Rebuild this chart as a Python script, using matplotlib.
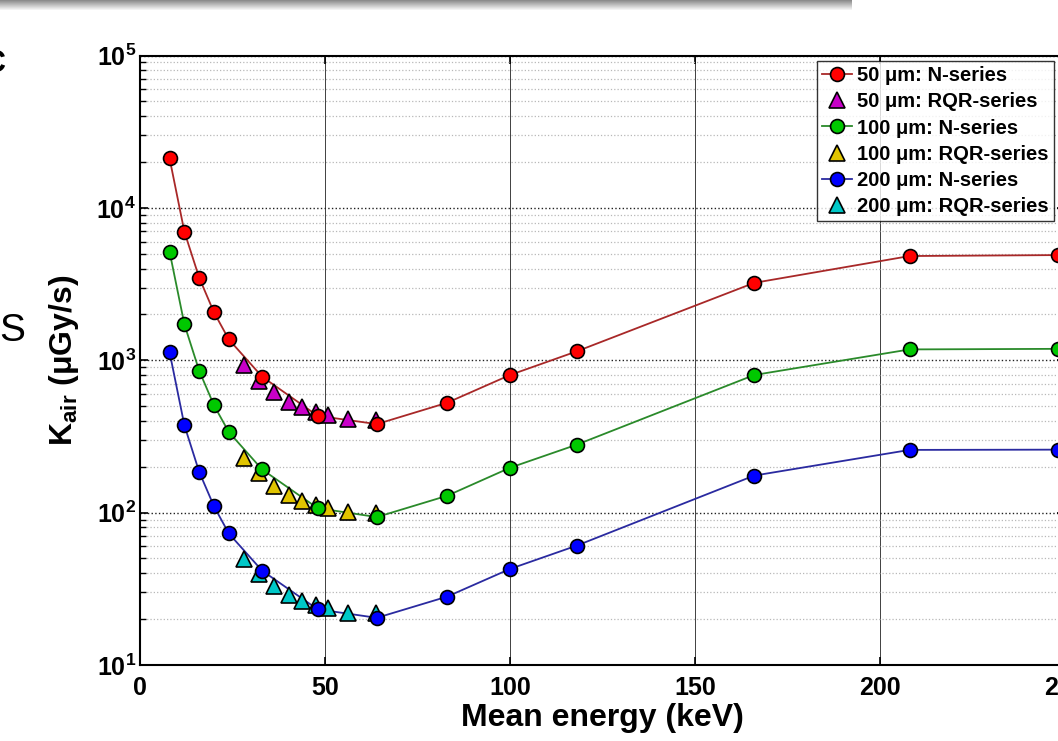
import matplotlib
matplotlib.use("Agg")
import matplotlib.pyplot as plt
import numpy as np
from matplotlib.lines import Line2D
from matplotlib.ticker import FixedLocator, LogLocator, NullFormatter, FuncFormatter

# mean energies (keV)
energy_n = [8, 12, 16, 20, 24, 33, 48, 64, 83, 100, 118, 166, 208, 248]
energy_rqr = [28, 32.2, 36.3, 40.3, 43.8, 47.5, 50.7, 56.1, 63.8]

# air kerma rate (uGy/s), N-series
kair_50_n = [21100, 6970, 3480, 2060, 1370, 780, 432, 381, 526, 800, 1143, 3220, 4830, 4900]
kair_100_n = [5150, 1720, 853, 506, 338, 192, 107, 93.5, 129, 197, 279, 800, 1178, 1188]
kair_200_n = [1128, 374, 185, 110, 73, 41.6, 23.2, 20.4, 28.1, 42.7, 60.7, 175, 258, 259]

# RQR-series
kair_50_rqr = [931, 733, 615, 535, 491, 459, 437, 413, 405]
kair_100_rqr = [227, 181, 150, 130, 120, 112, 107, 100.4, 98.9]
kair_200_rqr = [49.4, 39.3, 33.1, 28.8, 26.3, 24.8, 23.5, 22.0, 21.8]

x_ticks = [0, 50, 100, 150, 200, 250]

plt.rcParams['font.family'] = ['Liberation Sans', 'DejaVu Sans']
plt.rcParams['font.weight'] = 'bold'
plt.rcParams['mathtext.fontset'] = 'custom'
plt.rcParams['mathtext.rm'] = 'Liberation Sans:bold'
plt.rcParams['mathtext.bf'] = 'Liberation Sans:bold'
plt.rcParams['mathtext.it'] = 'Liberation Sans:bold'

W, H = 1058, 741
fig = plt.figure(figsize=(W / 100, H / 100), dpi=100)

# axes placed in pixel terms: x=0 at 140 px, x=250 at ~1064 px, y from 55.5 to 665 px
ax = fig.add_axes([140 / W, 1 - 665 / H, 925 / W, (665 - 55.5) / H])

series = [
    ("50", kair_50_n, kair_50_rqr, '#a82828', '#ff0000', '#c800c8'),
    ("100", kair_100_n, kair_100_rqr, '#2a8a2a', '#00c800', '#e0c400'),
    ("200", kair_200_n, kair_200_rqr, '#2a2aa0', '#0000ff', '#00c8c8'),
]

handles = []
labels = []
for name, kn, kr, lc, mc, tc in series:
    ax.plot(energy_n, kn, '-', color=lc, lw=1.3, zorder=2)
    ax.plot(energy_rqr, kr, '^', ls='none', ms=11, mfc=tc, mec='black', mew=1.2, zorder=3)
    ax.plot(energy_n, kn, 'o', ls='none', ms=10, mfc=mc, mec='black', mew=1.2, zorder=4)
    handles.append(Line2D([], [], color=lc, lw=1.3, marker='o', ms=10, mfc=mc, mec='black', mew=1.2))
    labels.append(f"{name} μm: N-series")
    handles.append(Line2D([], [], ls='none', marker='^', ms=11, mfc=tc, mec='black', mew=1.2))
    labels.append(f"{name} μm: RQR-series")

ax.set_yscale('log')
ax.set_xlim(0, 250)
ax.set_ylim(10, 1e5)

ax.xaxis.set_major_locator(FixedLocator(x_ticks))
ax.yaxis.set_major_locator(LogLocator(base=10, numticks=10))
ax.yaxis.set_minor_locator(LogLocator(base=10, subs=np.arange(2, 10), numticks=10))
ax.yaxis.set_minor_formatter(NullFormatter())
ax.yaxis.set_major_formatter(FuncFormatter(lambda v, _: r'$\mathbf{10^{%d}}$' % int(round(np.log10(v)))))

ax.tick_params(axis='both', which='both', direction='in', top=True, right=True)
ax.tick_params(axis='both', which='major', length=6, width=1.2, labelsize=18)
ax.tick_params(axis='y', which='minor', length=4, width=1.0)
ax.tick_params(axis='x', which='major', pad=8)
ax.tick_params(axis='y', which='major', pad=3)

for sp in ax.spines.values():
    sp.set_linewidth(1.5)

ax.grid(True, which='major', axis='x', color='#404040', ls='-', lw=0.7, zorder=0)
ax.grid(True, which='major', axis='y', color='#202020', ls=':', lw=1.0, zorder=0)
ax.grid(True, which='minor', axis='y', color='#b8b8b8', ls=':', lw=0.9, zorder=0)
ax.set_axisbelow(True)

ax.set_xlabel("Mean energy (keV)", fontsize=23, fontweight='bold', labelpad=2)
ax.set_ylabel(r'$\mathbf{K_{air}}$ (μGy/s)', fontsize=23, fontweight='bold')
ax.yaxis.set_label_coords(-0.064, 0.5)

leg = fig.legend(handles, labels, loc='upper left', bbox_to_anchor=(817 / W, 1 - 61 / H),
                 bbox_transform=fig.transFigure, borderaxespad=0, frameon=True, fancybox=False,
                 prop={'weight': 'bold', 'size': 14.5}, handlelength=1.5, handletextpad=0.25,
                 labelspacing=0.36, borderpad=0.25)
leg.get_frame().set_edgecolor('black')
leg.get_frame().set_linewidth(1.0)

# cropped-off bits from the neighbouring panel
fig.text(6 / W, 1 - 64 / H, "C", fontsize=22, fontweight='bold', ha='right', va='center')
fig.text(-1 / W, 1 - 331 / H, "S", fontsize=28, fontweight='normal', ha='left', va='center')

# gray bar at the top edge
bar = fig.add_axes([0, 1 - 11 / H, 852 / W, 11 / H])
grad = np.linspace(0.55, 1.0, 11).reshape(-1, 1)
bar.imshow(grad, cmap='gray', vmin=0, vmax=1, aspect='auto', extent=(0, 1, 0, 1))
bar.axis('off')

fig.savefig('out.png', dpi=100)
